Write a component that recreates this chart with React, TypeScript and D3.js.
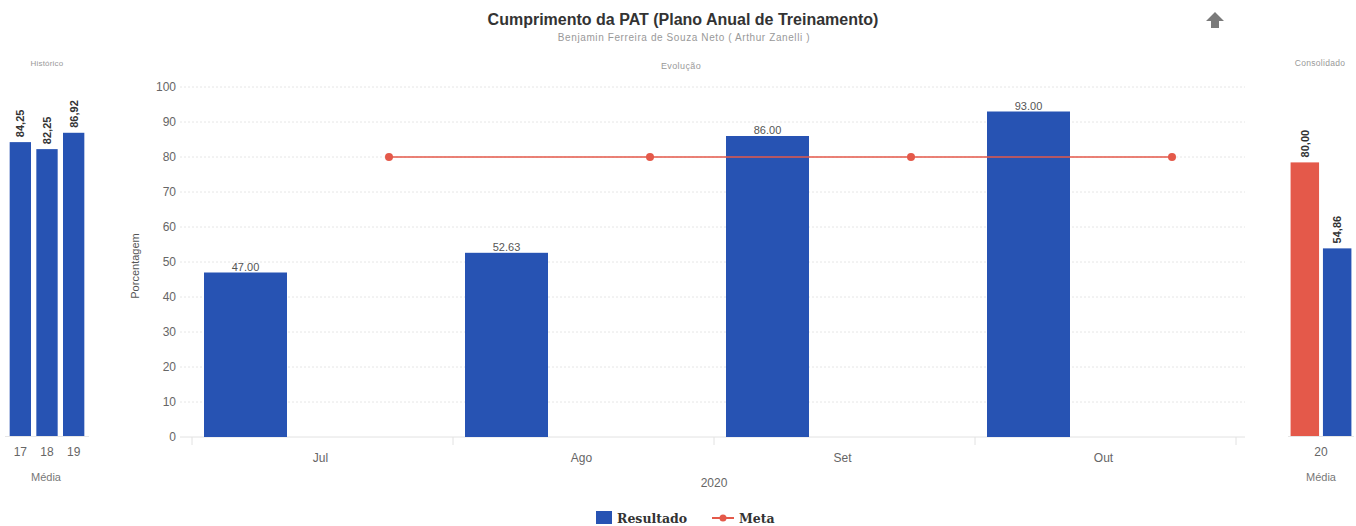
import React from 'react';
import * as d3 from 'd3';

// main chart data
const months = ['Jul', 'Ago', 'Set', 'Out'];
const resultado = [47.0, 52.63, 86.0, 93.0];
const meta = [80, 80, 80, 80];
const yTicks = [0, 10, 20, 30, 40, 50, 60, 70, 80, 90, 100];

// histórico (left panel)
const histYears = ['17', '18', '19'];
const histValues = [84.25, 82.25, 86.92];

// consolidado (right panel)
const consYear = ['20'];
const consMeta = [80.0];
const consResultado = [54.86];

const BLUE = '#2753b3';
const RED = '#e4594a';
const FONT = '"Liberation Sans", Arial, sans-serif';

const fmtDot = d3.format('.2f');
const fmtComma = (v: number) => fmtDot(v).replace('.', ',');

const App: React.FC = () => {
  const width = 1356;
  const height = 526;

  // main plot
  const baseY = 437;
  const y = d3.scaleLinear().domain([0, 100]).range([baseY, 87]);
  const x = d3.scaleBand<string>().domain(months).range([192, 1236]).padding(0);
  const bw = x.bandwidth();
  const barW = 83;
  const barOff = 12;
  const metaOff = 197;

  const metaLine = d3.line<number>()
    .x((_, i) => (x(months[i]) as number) + metaOff)
    .y(d => y(d));

  // left panel
  const xh = d3.scaleBand<string>().domain(histYears).range([7, 87]).paddingInner(0.2).paddingOuter(0.1);

  // right panel
  const yr = d3.scaleLinear().domain([0, 100]).range([436, 94]);
  const xr = d3.scaleBand<string>().domain(consYear).range([1288, 1354]);
  const xrInner = d3.scaleBand<string>().domain(['meta', 'res']).range([0, xr.bandwidth()]).paddingInner(0.12).paddingOuter(0.08);

  return (
    <svg width={width} height={height} style={{ position: 'absolute', left: 0, top: 0, background: '#fff' }} fontFamily={FONT}>
      {/* titles */}
      <text x={683} y={25} textAnchor="middle" fontSize={16} fontWeight="bold" fill="#333">
        Cumprimento da PAT (Plano Anual de Treinamento)
      </text>
      <text x={684} y={41} textAnchor="middle" fontSize={10} letterSpacing={0.6} fill="#999">
        Benjamin Ferreira de Souza Neto ( Arthur Zanelli )
      </text>
      <text x={681} y={69} textAnchor="middle" fontSize={9} letterSpacing={0.4} fill="#999">Evolução</text>
      <text x={47} y={66} textAnchor="middle" fontSize={8} letterSpacing={0.2} fill="#999">Histórico</text>
      <text x={1320} y={66} textAnchor="middle" fontSize={8.5} letterSpacing={0.3} fill="#999">Consolidado</text>

      {/* up arrow icon */}
      <path d="M1215,12 L1224,21 L1219,21 L1219,28 L1211,28 L1211,21 L1206,21 Z" fill="#7a7a7a" />

      {/* grid */}
      {yTicks.map(t => (
        <g key={t}>
          {t > 0 && (
            <line x1={180} x2={1245} y1={y(t)} y2={y(t)} stroke="#e6e6e6" strokeDasharray="2,2" />
          )}
          <text x={176} y={y(t) + 4} textAnchor="end" fontSize={12} fill="#666">{t}</text>
        </g>
      ))}
      <line x1={180} x2={1245} y1={baseY} y2={baseY} stroke="#e2e2e2" />
      {months.map(m => (
        <line key={m} x1={x(m) as number} x2={x(m) as number} y1={baseY} y2={baseY + 8} stroke="#e2e2e2" />
      ))}
      <line x1={x(months[3]) as number + bw} x2={x(months[3]) as number + bw} y1={baseY} y2={baseY + 8} stroke="#e2e2e2" />

      <text transform={`translate(139,${(y(0) + y(100)) / 2 + 4}) rotate(-90)`} textAnchor="middle" fontSize={11} fill="#555">
        Porcentagem
      </text>

      {/* bars */}
      {resultado.map((v, i) => {
        const bx = (x(months[i]) as number) + barOff;
        return (
          <g key={months[i]}>
            <rect x={bx} y={y(v)} width={barW} height={baseY - y(v)} fill={BLUE} />
            <text x={bx + barW / 2} y={y(v) - 2} textAnchor="middle" fontSize={11} fill="#555">{fmtDot(v)}</text>
          </g>
        );
      })}

      {/* meta line */}
      <path d={metaLine(meta) || ''} fill="none" stroke={RED} strokeWidth={1.6} />
      {meta.map((v, i) => (
        <circle key={i} cx={(x(months[i]) as number) + metaOff} cy={y(v)} r={4} fill={RED} />
      ))}

      {/* x labels */}
      {months.map(m => (
        <text key={m} x={(x(m) as number) + bw / 2 - 2} y={462} textAnchor="middle" fontSize={12} fill="#666">{m}</text>
      ))}
      <text x={714} y={487} textAnchor="middle" fontSize={12} fill="#666">2020</text>

      {/* legend */}
      <rect x={596} y={511} width={16} height={13} fill={BLUE} />
      <text x={617} y={523} fontSize={12.5} fontWeight="bold" fill="#333" fontFamily='"DejaVu Serif", serif'>Resultado</text>
      <line x1={712} x2={734} y1={518} y2={518} stroke={RED} strokeWidth={2} />
      <circle cx={723} cy={518} r={3.5} fill={RED} />
      <text x={739} y={523} fontSize={12.5} fontWeight="bold" fill="#333" fontFamily='"DejaVu Serif", serif'>Meta</text>

      {/* histórico panel */}
      <line x1={5} x2={89} y1={436.5} y2={436.5} stroke="#e6e6e6" />
      {histValues.map((v, i) => {
        const bx = xh(histYears[i]) as number;
        const w = xh.bandwidth();
        return (
          <g key={histYears[i]}>
            <rect x={bx} y={y(v)} width={w} height={baseY - 1 - y(v)} fill={BLUE} />
            <text transform={`translate(${bx + w / 2 + 4},${y(v) - 5}) rotate(-90)`} fontSize={11} fontWeight="bold" fill="#333">
              {fmtComma(v)}
            </text>
            <text x={bx + w / 2} y={456} textAnchor="middle" fontSize={12} fill="#666">{histYears[i]}</text>
          </g>
        );
      })}
      <text x={46} y={481} textAnchor="middle" fontSize={11} fill="#777">Média</text>

      {/* consolidado panel */}
      <line x1={1288} x2={1354} y1={436.5} y2={436.5} stroke="#e6e6e6" />
      {consYear.map((yr0, i) => {
        const gx = xr(yr0) as number;
        const w = xrInner.bandwidth();
        const items = [
          { k: 'meta', v: consMeta[i], c: RED },
          { k: 'res', v: consResultado[i], c: BLUE },
        ];
        return (
          <g key={yr0}>
            {items.map(it => {
              const bx = gx + (xrInner(it.k) as number);
              return (
                <g key={it.k}>
                  <rect x={bx} y={yr(it.v)} width={w} height={436 - yr(it.v)} fill={it.c} />
                  <text transform={`translate(${bx + w / 2 + 4},${yr(it.v) - 5}) rotate(-90)`} fontSize={11} fontWeight="bold" fill="#333">
                    {fmtComma(it.v)}
                  </text>
                </g>
              );
            })}
            <text x={gx + xr.bandwidth() / 2} y={456} textAnchor="middle" fontSize={12} fill="#666">{yr0}</text>
          </g>
        );
      })}
      <text x={1321} y={481} textAnchor="middle" fontSize={11} fill="#777">Média</text>
    </svg>
  );
};

export default App;
